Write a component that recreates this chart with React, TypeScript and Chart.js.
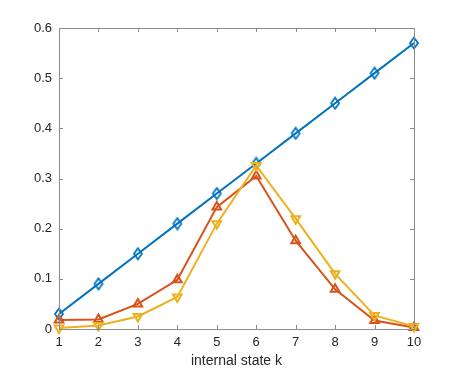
import React, { useEffect, useRef } from "react";
import { Chart, registerables } from "chart.js";

Chart.register(...registerables);

const kValues = [1, 2, 3, 4, 5, 6, 7, 8, 9, 10];
const blueValues = [0.03, 0.09, 0.15, 0.21, 0.27, 0.33, 0.39, 0.45, 0.51, 0.57];
const redValues = [0.018, 0.019, 0.05, 0.098, 0.243, 0.305, 0.176, 0.079, 0.017, 0.003];
const yellowValues = [0.002, 0.007, 0.025, 0.064, 0.21, 0.326, 0.22, 0.11, 0.027, 0.005];
const xTicks = [1, 2, 3, 4, 5, 6, 7, 8, 9, 10];
const yTicks = [0, 0.1, 0.2, 0.3, 0.4, 0.5, 0.6];
const xTitle = "internal state k";

const FONT = "'Liberation Sans', Arial, Helvetica, sans-serif";
const AXIS_COLOR = "#262626";
const FRAME_COLOR = "#8c8c8c";

function makeDiamond(color: string) {
  const c = document.createElement("canvas");
  const w = 12;
  const h = 14;
  c.width = w;
  c.height = h;
  const g = c.getContext("2d")!;
  g.strokeStyle = color;
  g.lineWidth = 1.8;
  g.beginPath();
  g.moveTo(w / 2, 1.5);
  g.lineTo(w - 2, h / 2);
  g.lineTo(w / 2, h - 1.5);
  g.lineTo(2, h / 2);
  g.closePath();
  g.stroke();
  return c;
}

const framePlugin = {
  id: "matlabFrame",
  afterDatasetsDraw(chart: any) {
    const { ctx, chartArea } = chart;
    const { left, right, top, bottom } = chartArea;
    const xs = chart.scales.x;
    const ys = chart.scales.y;
    ctx.save();
    ctx.strokeStyle = FRAME_COLOR;
    ctx.lineWidth = 1;
    ctx.beginPath();
    ctx.rect(Math.round(left) + 0.5, Math.round(top) + 0.5, Math.round(right - left), Math.round(bottom - top));
    ctx.stroke();
    const tl = 4;
    ctx.beginPath();
    xTicks.forEach((v) => {
      const px = Math.round(xs.getPixelForValue(v)) + 0.5;
      ctx.moveTo(px, bottom);
      ctx.lineTo(px, bottom - tl);
      ctx.moveTo(px, top);
      ctx.lineTo(px, top + tl);
    });
    yTicks.forEach((v) => {
      const py = Math.round(ys.getPixelForValue(v)) + 0.5;
      ctx.moveTo(left, py);
      ctx.lineTo(left + tl, py);
      ctx.moveTo(right, py);
      ctx.lineTo(right - tl, py);
    });
    ctx.stroke();
    ctx.restore();
  },
};

export default function App() {
  const canvasRef = useRef<HTMLCanvasElement | null>(null);

  useEffect(() => {
    if (!canvasRef.current) return;
    const mk = (vals: number[]) => kValues.map((k, i) => ({ x: k, y: vals[i] }));
    const common = {
      borderWidth: 2,
      pointRadius: 5,
      pointBorderWidth: 2,
      pointBackgroundColor: "rgba(0,0,0,0)",
      tension: 0,
      clip: false as any,
    };
    const chart = new Chart(canvasRef.current, {
      type: "line",
      data: {
        datasets: [
          {
            ...common,
            data: mk(blueValues),
            borderColor: "#0072BD",
            pointBorderColor: "#0072BD",
            pointStyle: makeDiamond("#0072BD") as any,
            order: 2,
          },
          {
            ...common,
            data: mk(redValues),
            borderColor: "#D95319",
            pointBorderColor: "#D95319",
            pointStyle: "triangle",
            order: 1,
          },
          {
            ...common,
            data: mk(yellowValues),
            borderColor: "#EDB120",
            pointBorderColor: "#EDB120",
            pointStyle: "triangle",
            pointRotation: 180,
            order: 0,
          },
        ],
      },
      options: {
        animation: false,
        responsive: false,
        maintainAspectRatio: false,
        layout: { padding: { left: 0, right: 43, top: 28, bottom: 0 } },
        plugins: {
          legend: { display: false },
          tooltip: { enabled: false },
        },
        scales: {
          x: {
            type: "linear",
            min: 1,
            max: 10,
            grid: { display: false, drawTicks: false },
            border: { display: false },
            afterBuildTicks: (scale: any) => {
              scale.ticks = xTicks.map((v) => ({ value: v }));
            },
            afterFit: (scale: any) => {
              scale.height = 41;
            },
            ticks: {
              color: AXIS_COLOR,
              font: { family: FONT, size: 13 },
              padding: 6,
              maxRotation: 0,
              callback: (v: any) => String(v),
            },
            title: {
              display: true,
              text: xTitle,
              color: AXIS_COLOR,
              font: { family: FONT, size: 14 },
              padding: { top: 0, bottom: 0 },
            },
          },
          y: {
            type: "linear",
            min: 0,
            max: 0.6,
            grid: { display: false, drawTicks: false },
            border: { display: false },
            afterBuildTicks: (scale: any) => {
              scale.ticks = yTicks.map((v) => ({ value: v }));
            },
            afterFit: (scale: any) => {
              scale.width = 59;
            },
            ticks: {
              color: AXIS_COLOR,
              font: { family: FONT, size: 13 },
              padding: 7,
              callback: (v: any) => String(Math.round(Number(v) * 10) / 10),
            },
          },
        },
      },
      plugins: [framePlugin],
    });
    return () => chart.destroy();
  }, []);

  return (
    <div style={{ position: "fixed", left: 0, top: 0, width: 457, height: 370, background: "#fff" }}>
      <canvas ref={canvasRef} width={457} height={370} style={{ width: 457, height: 370 }} />
    </div>
  );
}
